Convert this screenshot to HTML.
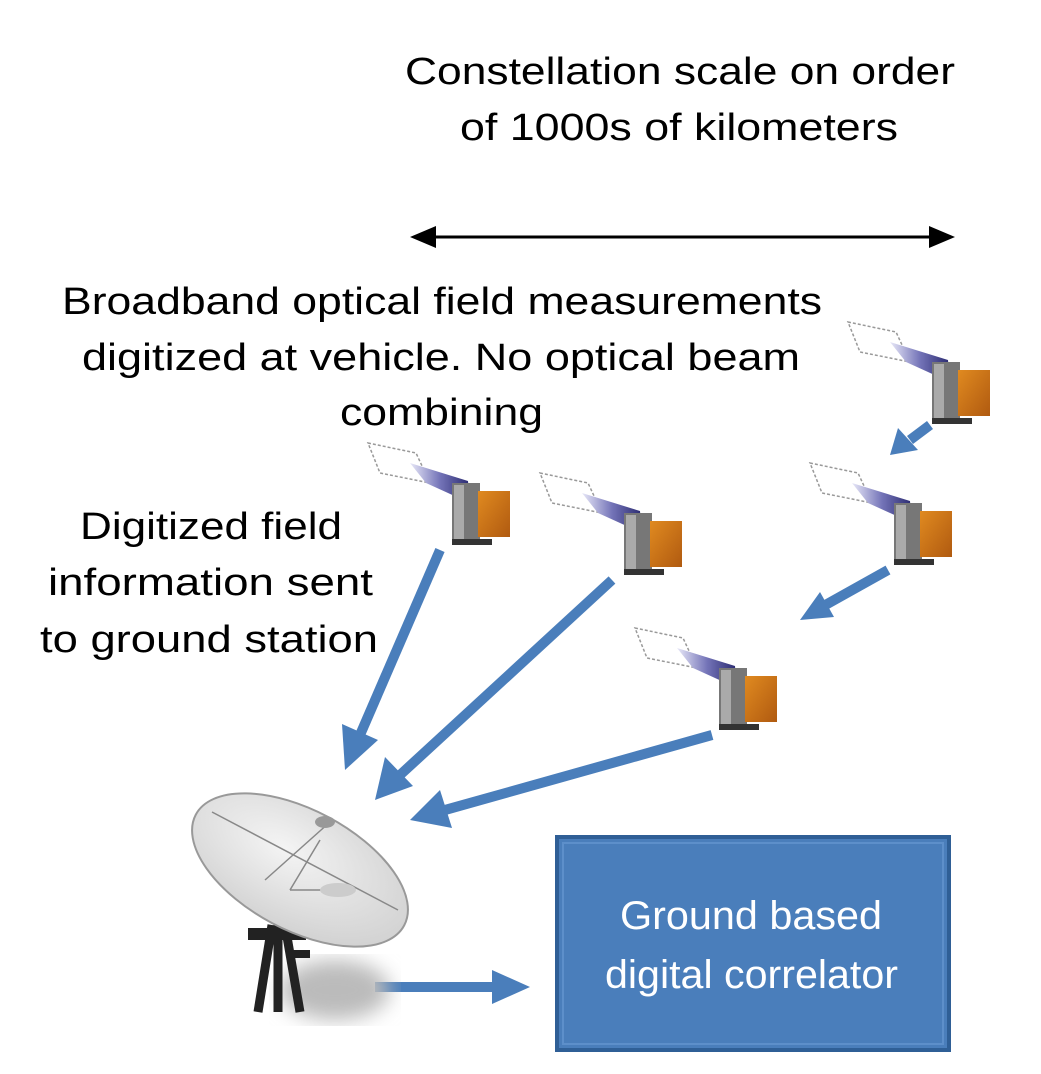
<!DOCTYPE html>
<html><head><meta charset="utf-8"><style>
body{margin:0;background:#fff;}
svg{display:block}
text{font-family:"Liberation Sans",sans-serif;}
</style></head><body>
<svg width="1041" height="1074" viewBox="0 0 1041 1074">
<defs>
<linearGradient id="boom" x1="0" y1="0" x2="1" y2="0">
<stop offset="0" stop-color="#e8e8f8"/><stop offset="0.5" stop-color="#7474b8"/><stop offset="1" stop-color="#2a2a70"/></linearGradient>
<linearGradient id="org" x1="0" y1="0" x2="1" y2="1">
<stop offset="0" stop-color="#e08a20"/><stop offset="1" stop-color="#b05a10"/></linearGradient>
<radialGradient id="dish" cx="0.4" cy="0.4" r="0.7">
<stop offset="0" stop-color="#f4f4f4"/><stop offset="1" stop-color="#cfcfcf"/></radialGradient>
<filter id="bl"><feGaussianBlur stdDeviation="10"/></filter>
<g id="sat">
<polygon points="0,0 48,10 62,40 12,30" fill="#fff" stroke="#999" stroke-width="1.5" stroke-dasharray="3,2"/>
<polygon points="42,20 100,38 102,60 58,40" fill="url(#boom)"/>
<rect x="84" y="40" width="28" height="60" fill="#777"/>
<rect x="86" y="42" width="10" height="55" fill="#aaa"/>
<rect x="110" y="48" width="32" height="46" fill="url(#org)"/>
<rect x="84" y="96" width="40" height="6" fill="#333"/>
</g>
</defs>

<g font-size="38">
<text x="405" y="84" textLength="550" lengthAdjust="spacingAndGlyphs">Constellation scale on order</text>
<text x="460" y="140" textLength="438" lengthAdjust="spacingAndGlyphs">of 1000s of kilometers</text>
<text x="62" y="314" textLength="760" lengthAdjust="spacingAndGlyphs">Broadband optical field measurements</text>
<text x="82" y="370" textLength="718" lengthAdjust="spacingAndGlyphs">digitized at vehicle.  No optical beam</text>
<text x="340" y="425" textLength="203" lengthAdjust="spacingAndGlyphs">combining</text>
<text x="80" y="539" textLength="262" lengthAdjust="spacingAndGlyphs">Digitized field</text>
<text x="48" y="595" textLength="325" lengthAdjust="spacingAndGlyphs">information sent</text>
<text x="40" y="652" textLength="338" lengthAdjust="spacingAndGlyphs">to ground station</text>
</g>

<line x1="430" y1="237" x2="935" y2="237" stroke="#000" stroke-width="3"/>
<polygon points="410,237 436,226 436,248" fill="#000"/>
<polygon points="955,237 929,226 929,248" fill="#000"/>

<use href="#sat" x="368" y="443"/>
<use href="#sat" x="540" y="473"/>
<use href="#sat" x="848" y="322"/>
<use href="#sat" x="810" y="463"/>
<use href="#sat" x="635" y="628"/>

<g stroke="#4a7ebb" stroke-width="10" fill="#4a7ebb">
<line x1="440" y1="550" x2="360" y2="735"/>
<line x1="612" y1="580" x2="400" y2="775"/>
<line x1="712" y1="735" x2="445" y2="810"/>
<line x1="888" y1="570" x2="820" y2="608"/>
<line x1="930" y1="425" x2="910" y2="440"/>
<line x1="375" y1="987" x2="495" y2="987"/>
</g>
<g fill="#4a7ebb">
<polygon points="345,770 342,724 378,740"/>
<polygon points="375,800 385,757 413,786"/>
<polygon points="410,820 440,790 452,828"/>
<polygon points="800,620 820,592 834,617"/>
<polygon points="890,455 898,428 918,450"/>
<polygon points="530,987 492,970 492,1004"/>
</g>

<ellipse cx="335" cy="990" rx="55" ry="30" fill="#bbb" filter="url(#bl)"/>
<g stroke="#222" stroke-width="9" fill="none">
<line x1="272" y1="925" x2="258" y2="1012"/>
<line x1="285" y1="925" x2="300" y2="1012"/>
<line x1="278" y1="925" x2="278" y2="1012"/>
</g>
<rect x="248" y="928" width="58" height="12" fill="#222"/>
<rect x="290" y="950" width="20" height="8" fill="#222"/>
<ellipse cx="300" cy="870" rx="118" ry="60" transform="rotate(28 300 870)" fill="url(#dish)" stroke="#999" stroke-width="2"/>
<g stroke="#888" stroke-width="1.5" fill="none">
<line x1="212" y1="812" x2="398" y2="910"/>
<line x1="330" y1="822" x2="265" y2="880"/>
<line x1="290" y1="890" x2="320" y2="840"/>
<line x1="290" y1="890" x2="340" y2="890"/>
</g>
<ellipse cx="325" cy="822" rx="10" ry="6" fill="#999"/>
<ellipse cx="338" cy="890" rx="18" ry="7" fill="#ccc"/>

<rect x="557" y="837" width="392" height="213" fill="#4a7ebb" stroke="#2f5f96" stroke-width="4"/>
<rect x="563" y="843" width="380" height="201" fill="none" stroke="#5d8fca" stroke-width="2"/>
<text x="620" y="929" font-size="40" fill="#fff" textLength="262" lengthAdjust="spacingAndGlyphs">Ground based</text>
<text x="605" y="988" font-size="40" fill="#fff" textLength="293" lengthAdjust="spacingAndGlyphs">digital correlator</text>
</svg>
</body></html>
